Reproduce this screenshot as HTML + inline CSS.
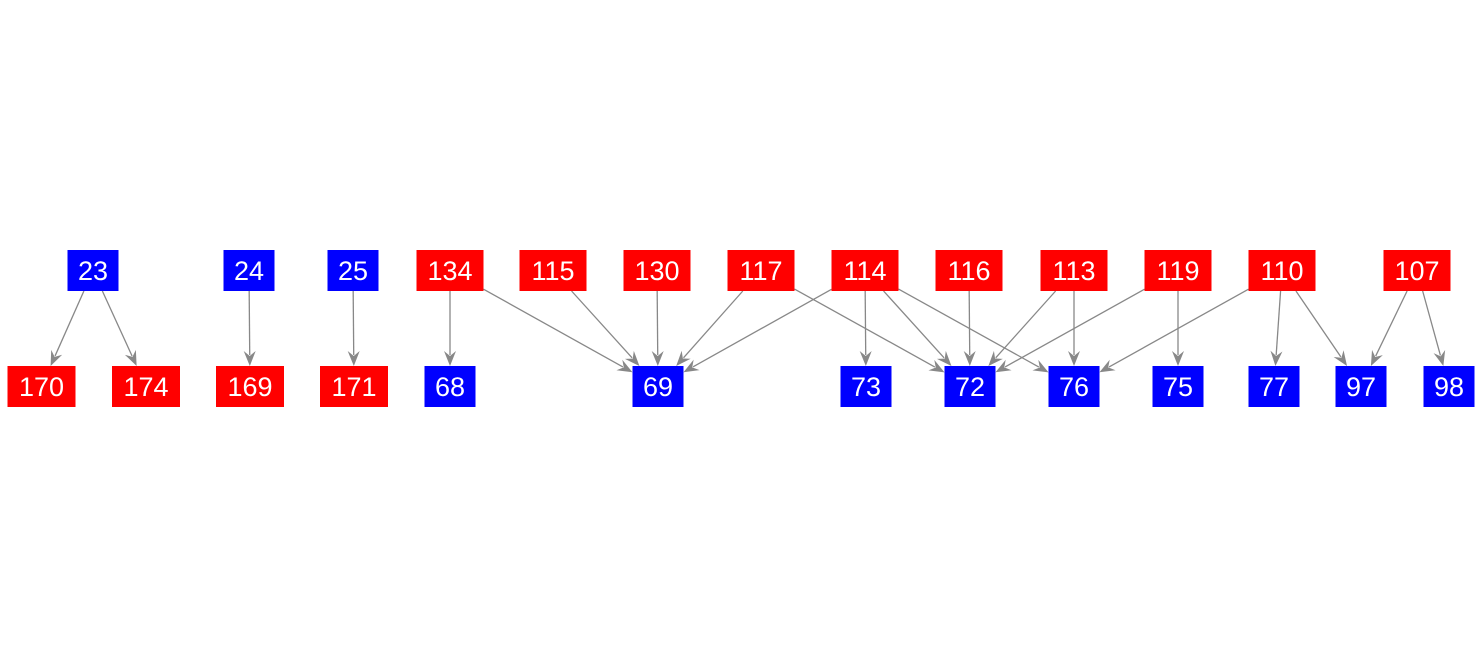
<!DOCTYPE html>
<html><head><meta charset="utf-8"><style>
html,body{margin:0;padding:0;background:#fff;width:1483px;height:656px;overflow:hidden}
svg text{font-family:"Liberation Sans",Arial,sans-serif;font-size:27px;fill:#fff}
</style></head><body>
<svg id="s" width="1483" height="656" xmlns="http://www.w3.org/2000/svg"></svg>
<script>
var top_=[["23",93,51,"b"],["24",249,51,"b"],["25",353,51,"b"],["134",450,67,"r"],["115",553,67,"r"],["130",657,67,"r"],["117",761,67,"r"],["114",865,67,"r"],["116",969,67,"r"],["113",1074,67,"r"],["119",1178,67,"r"],["110",1282,67,"r"],["107",1417,67,"r"]];
var bot=[["170",41.5,68,"r"],["174",146,68,"r"],["169",250,68,"r"],["171",354,68,"r"],["68",450,51,"b"],["69",658,51,"b"],["73",866,51,"b"],["72",970,51,"b"],["76",1074,51,"b"],["75",1178,51,"b"],["77",1274,51,"b"],["97",1361,51,"b"],["98",1449,51,"b"]];
var edges=[["23","170"],["23","174"],["24","169"],["25","171"],["134","68"],["134","69"],["115","69"],["130","69"],["117","69"],["117","72"],["114","69"],["114","73"],["114","72"],["114","76"],["116","72"],["113","72"],["113","76"],["119","72"],["119","75"],["110","76"],["110","77"],["110","97"],["107","97"],["107","98"]];
var N={};top_.forEach(function(n){N[n[0]]={x:n[1],y:270.5,w:n[2],c:n[3]}});bot.forEach(function(n){N[n[0]]={x:n[1],y:386.5,w:n[2],c:n[3]}});
var h=41,out="";
function clip(n,dx,dy){var tx=Math.abs(dx)>1e-6?(n.w/2)/Math.abs(dx):1e9,ty=(h/2)/Math.abs(dy);var t=Math.min(tx,ty);return [n.x+dx*t,n.y+dy*t];}
edges.forEach(function(e){var a=N[e[0]],b=N[e[1]];var dx=b.x-a.x,dy=b.y-a.y;
var p=clip(a,dx,dy),q=clip(b,-dx,-dy);var L=Math.hypot(q[0]-p[0],q[1]-p[1]);var ux=(q[0]-p[0])/L,uy=(q[1]-p[1])/L;
var bx=q[0]-ux*15,by=q[1]-uy*15;
out+='<line x1="'+p[0]+'" y1="'+p[1]+'" x2="'+(bx+ux*4)+'" y2="'+(by+uy*4)+'" stroke="#888" stroke-width="1.3"/>';
out+='<polygon points="'+q[0]+','+q[1]+' '+(bx-uy*6)+','+(by+ux*6)+' '+(bx+ux*5)+','+(by+uy*5)+' '+(bx+uy*6)+','+(by-ux*6)+'" fill="#888"/>';});
for(var k in N){var n=N[k];out+='<rect x="'+(n.x-n.w/2)+'" y="'+(n.y-h/2)+'" width="'+n.w+'" height="'+h+'" fill="'+(n.c=="r"?"#ff0000":"#0000ff")+'"/>';
out+='<text x="'+n.x+'" y="'+(n.y+9.5)+'" text-anchor="middle">'+k+'</text>';}
document.getElementById("s").innerHTML=out;
</script>
</body></html>
